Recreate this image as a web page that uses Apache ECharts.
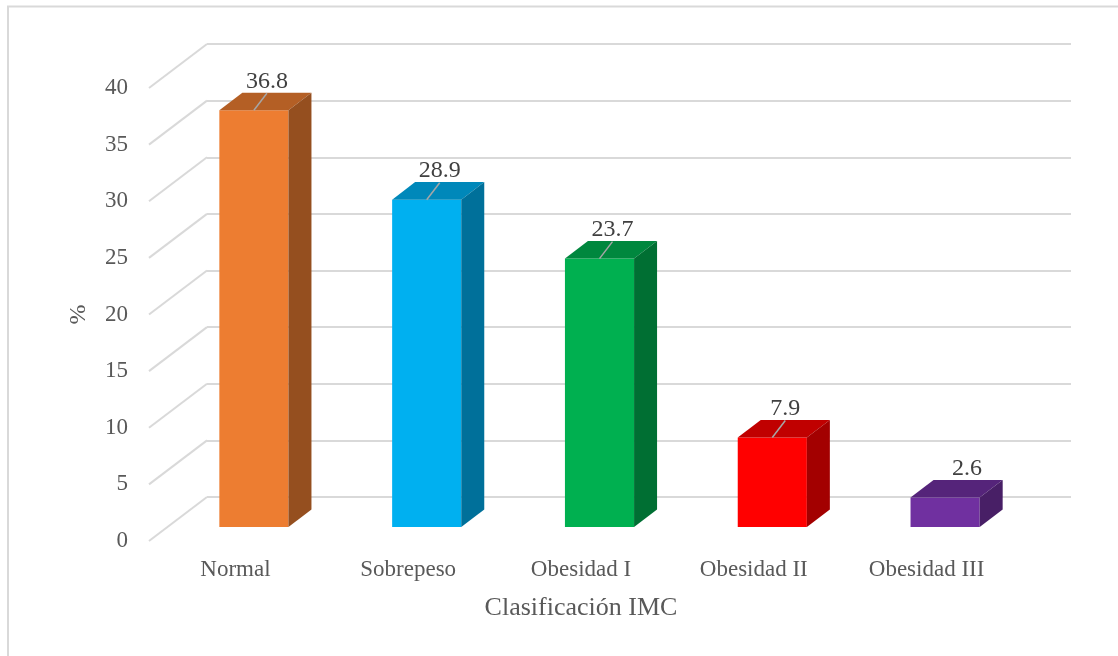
<!DOCTYPE html>
<html>
<head>
<meta charset="utf-8">
<script src="https://cdn.jsdelivr.net/npm/echarts@6/dist/echarts.min.js"></script>
<style>
html, body { margin: 0; padding: 0; background: #fff; }
#chart { width: 1118px; height: 656px; }
</style>
</head>
<body>
<div id="chart"></div>
<script>
// datos
const categories = ["Normal", "Sobrepeso", "Obesidad I", "Obesidad II", "Obesidad III"];
const percentages = [36.8, 28.9, 23.7, 7.9, 2.6];
const yTicks = [0, 5, 10, 15, 20, 25, 30, 35, 40];

// colores de cara frontal, superior y lateral
const frontColors = ["#ED7D31", "#00B0F0", "#00B050", "#FF0000", "#7030A0"];
const topColors = ["#B45F25", "#0088BA", "#00873E", "#C00000", "#55247A"];
const sideColors = ["#954F1F", "#00709A", "#006F33", "#A30000", "#481F66"];

const FONT = "Liberation Serif";
const DEPTH_X = 58, DEPTH_Y = 44;     // profundidad total del piso
const BAR_DX = 23, BAR_DY = -17.6;    // profundidad de cada barra

const chart = echarts.init(document.getElementById("chart"));

function valueAxis(idx, extra) {
    return Object.assign({
        type: "value",
        gridIndex: idx,
        min: 0,
        max: 40,
        interval: 5,
        axisLine: { show: false },
        axisTick: { show: false },
        axisLabel: { show: false },
        splitLine: { show: false }
    }, extra || {});
}

function catAxis(idx, extra) {
    return Object.assign({
        type: "category",
        gridIndex: idx,
        data: categories,
        axisLine: { show: false },
        axisTick: { show: false },
        axisLabel: { show: false },
        splitLine: { show: false }
    }, extra || {});
}

chart.setOption({
    backgroundColor: "#fff",
    animation: false,
    graphic: [{
        type: "rect",
        shape: { x: 8, y: 6.5, width: 1300, height: 900 },
        style: { fill: "none", stroke: "#d9d9d9", lineWidth: 2 },
        silent: true
    }],
    grid: [
        // pared del fondo
        { left: 207, right: 47, top: 44, bottom: 159, outerBoundsMode: "none" },
        // plano de las barras
        { left: 167.5, right: 86.5, top: 74, bottom: 129, outerBoundsMode: "none" },
        // plano frontal (etiquetas)
        { left: 149, right: 105, top: 88, bottom: 115, outerBoundsMode: "none" }
    ],
    xAxis: [
        catAxis(0),
        catAxis(1),
        catAxis(2, {
            axisLabel: { show: true, fontFamily: FONT, fontSize: 23, color: "#595959", margin: 17 },
            name: "Clasificación IMC",
            nameLocation: "middle",
            nameGap: 54,
            nameTextStyle: { fontFamily: FONT, fontSize: 26, color: "#595959" }
        })
    ],
    yAxis: [
        valueAxis(0, { splitLine: { show: true, lineStyle: { color: "#d9d9d9", width: 2 } } }),
        valueAxis(1),
        valueAxis(2, {
            axisLabel: { show: true, fontFamily: FONT, fontSize: 23, color: "#595959", margin: 21 },
            name: "%",
            nameLocation: "middle",
            nameGap: 58,
            nameRotate: 90,
            nameTextStyle: { fontFamily: FONT, fontSize: 24, color: "#595959" }
        })
    ],
    series: [
        {
            // diagonales del piso lateral
            type: "custom",
            xAxisIndex: 0,
            yAxisIndex: 0,
            silent: true,
            z: 1,
            data: yTicks.map(v => [0, v]),
            renderItem: function (params, api) {
                const p = api.coord([api.value(0), api.value(1)]);
                const x = p[0] - api.size([1, 0])[0] / 2;
                return {
                    type: "line",
                    shape: { x1: x, y1: p[1], x2: x - DEPTH_X, y2: p[1] + DEPTH_Y },
                    style: { stroke: "#d9d9d9", lineWidth: 2 }
                };
            }
        },
        {
            type: "custom",
            xAxisIndex: 1,
            yAxisIndex: 1,
            z: 5,
            data: percentages.map((v, i) => [i, v]),
            renderItem: function (params, api) {
                const i = api.value(0);
                const v = api.value(1);
                const top = api.coord([i, v]);
                const base = api.coord([i, 0]);
                const bw = api.size([1, 0])[0] * 0.4;
                const x0 = top[0] - bw / 2;
                const x1 = top[0] + bw / 2;
                const children = [
                    {
                        type: "rect",
                        shape: { x: x0, y: top[1], width: bw, height: base[1] - top[1] },
                        style: { fill: frontColors[i] }
                    },
                    {
                        type: "polygon",
                        shape: { points: [[x0, top[1]], [x0 + BAR_DX, top[1] + BAR_DY], [x1 + BAR_DX, top[1] + BAR_DY], [x1, top[1]]] },
                        style: { fill: topColors[i] }
                    },
                    {
                        type: "polygon",
                        shape: { points: [[x1, top[1]], [x1 + BAR_DX, top[1] + BAR_DY], [x1 + BAR_DX, base[1] + BAR_DY], [x1, base[1]]] },
                        style: { fill: sideColors[i] }
                    },
                    {
                        type: "text",
                        x: top[0] + (v > 5 ? 13 : 22),
                        y: top[1] - 29,
                        style: {
                            text: v.toFixed(1),
                            fontFamily: FONT,
                            fontSize: 24,
                            fill: "#404040",
                            align: "center",
                            verticalAlign: "middle"
                        }
                    }
                ];
                if (v > 5) {
                    // linea guia de la etiqueta
                    children.push({
                        type: "line",
                        shape: { x1: top[0], y1: top[1], x2: top[0] + 13, y2: top[1] - 17 },
                        style: { stroke: "#a6a6a6", lineWidth: 1.5 }
                    });
                }
                return { type: "group", children: children };
            }
        }
    ]
});
</script>
</body>
</html>
